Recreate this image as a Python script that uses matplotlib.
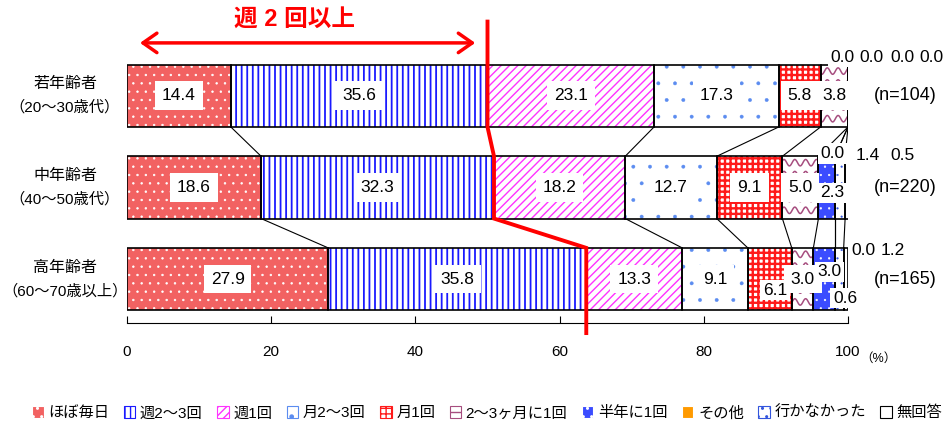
import matplotlib

matplotlib.use("Agg")
import matplotlib.pyplot as plt
import matplotlib.transforms as mtransforms
import numpy as np
from matplotlib.patches import Patch

plt.rcParams["font.family"] = ["Liberation Sans", "Noto Sans CJK JP"]

# --- data ---
GROUPS = ["若年齢者", "中年齢者", "高年齢者"]
GROUP_AGES = ["（20～30歳代）", "（40～50歳代）", "（60～70歳以上）"]
SAMPLE_SIZES = ["(n=104)", "(n=220)", "(n=165)"]
CATEGORIES = ["ほぼ毎日", "週2～3回", "週1回", "月2～3回", "月1回",
              "2～3ヶ月に1回", "半年に1回", "その他", "行かなかった", "無回答"]
YOUNG = [14.4, 35.6, 23.1, 17.3, 5.8, 3.8, 0.0, 0.0, 0.0, 0.0]
MIDDLE = [18.6, 32.3, 18.2, 12.7, 9.1, 5.0, 2.3, 0.0, 1.4, 0.5]
OLD = [27.9, 35.8, 13.3, 9.1, 6.1, 3.0, 3.0, 0.0, 1.2, 0.6]
X_TICKS = [0, 20, 40, 60, 80, 100]
BRACKET_TITLE = "週 2 回以上"

# face colour, hatch colour, hatch, hatch line width
STYLES = [
    ("#f26262", "white", "..", 0.5),
    ("white", "#1a1aff", "|||", 1.3),
    ("white", "#ff33ff", "////", 1.0),
    ("white", "#5b8cf0", ".", 0.3),
    ("white", "#ff1a1a", "+++", 1.7),
    ("white", "#a64d7f", None, 1.0),   # wavy lines drawn by hand below
    ("#3b4cff", "white", "..", 0.4),
    ("#ff9a00", "white", None, 1.0),
    ("white", "#3355dd", "..", 0.3),
    ("white", "black", None, 1.0),
]
WAVE_CAT = 5

# labels that do not sit at the segment centre: (group, category) -> (x, y)
LABEL_POS = {
    (0, 6): (99.2, -0.42), (0, 7): (103.3, -0.42),
    (0, 8): (107.6, -0.42), (0, 9): (111.6, -0.42),
    (1, 6): (97.8, 1.06), (1, 7): (97.9, 0.63),
    (1, 8): (102.8, 0.65), (1, 9): (107.6, 0.65),
    (2, 4): (89.9, 2.12), (2, 6): (97.4, 1.92),
    (2, 7): (102.2, 1.69), (2, 8): (106.2, 1.69), (2, 9): (99.6, 2.21),
}


def set_hatch_lw(patches, lw):
    for p in patches:
        if hasattr(p, "set_hatch_linewidth"):
            p.set_hatch_linewidth(lw)


values = np.array([YOUNG, MIDDLE, OLD])
lefts = np.hstack([np.zeros((3, 1)), np.cumsum(values, axis=1)[:, :-1]])
ypos = np.arange(len(GROUPS))
bar_h = 0.68

fig = plt.figure(figsize=(9.48, 4.25), dpi=100)
ax = fig.add_axes([127 / 948, 1 - 323 / 425, 721 / 948, 273 / 425])

for k, (face, hcol, hatch, hlw) in enumerate(STYLES):
    with plt.rc_context({"hatch.linewidth": hlw}):
        bars = ax.barh(ypos, values[:, k], left=lefts[:, k], height=bar_h,
                       color=face, edgecolor=hcol, hatch=hatch, linewidth=0, zorder=2)
    set_hatch_lw(bars.patches, hlw)
    ax.barh(ypos, values[:, k], left=lefts[:, k], height=bar_h,
            fill=False, edgecolor="black", linewidth=1.2, zorder=3)
    if k == WAVE_CAT:
        for g, rect in enumerate(bars.patches):
            x0, x1 = rect.get_x(), rect.get_x() + rect.get_width()
            y0, y1 = rect.get_y(), rect.get_y() + rect.get_height()
            xs = np.linspace(x0, x1, 120)
            for yc in np.arange(y0 + 0.07, y1, 0.13):
                ln, = ax.plot(xs, yc + 0.035 * np.sin(2 * np.pi * xs / 1.5),
                              color=hcol, lw=1.1, zorder=2.5)
                ln.set_clip_path(rect)

# connector lines between bars
ends = np.cumsum(values, axis=1)
for g in range(len(GROUPS) - 1):
    for k in range(len(CATEGORIES) - 1):
        ax.plot([ends[g, k], ends[g + 1, k]], [g + bar_h / 2, g + 1 - bar_h / 2],
                color="black", lw=0.8, zorder=1)

# value labels
for g in range(len(GROUPS)):
    for k in range(len(CATEGORIES)):
        v = values[g, k]
        if (g, k) in LABEL_POS:
            x, y = LABEL_POS[(g, k)]
            pad = 0.15
        elif v > 0:
            x, y = lefts[g, k] + v / 2, g
            pad = 0.4
        else:
            continue
        ax.text(x, y, f"{v:.1f}", ha="center", va="center", fontsize=12.5,
                zorder=5, clip_on=False,
                bbox=dict(boxstyle=f"square,pad={pad}", fc="white", ec="none"))
    ax.text(107.9, g, SAMPLE_SIZES[g], ha="center", va="center", fontsize=13)
    ax.text(-8.6, g - 0.13, GROUPS[g], ha="center", va="center", fontsize=11.5)
    ax.text(-8.6, g + 0.13, GROUP_AGES[g], ha="center", va="center", fontsize=11)

# red cumulative line for "twice a week or more"
two_plus = values[:, 0] + values[:, 1]
line_x = [two_plus[0], two_plus[0], two_plus[1], two_plus[1], two_plus[2], two_plus[2]]
line_y = [-0.81, bar_h / 2, 1 - bar_h / 2, 1 + bar_h / 2, 2 - bar_h / 2, 2.59]
ax.plot(line_x, line_y, color="red", lw=2.8, zorder=6, clip_on=False,
        solid_joinstyle="miter")

trans = mtransforms.blended_transform_factory(ax.transData, ax.transAxes)
ax.annotate("", xy=(1.8, 1.026), xytext=(48.3, 1.026), xycoords=trans,
            textcoords=trans,
            arrowprops=dict(arrowstyle="<->,head_length=0.5,head_width=0.35",
                            color="red", lw=2.5, mutation_scale=20,
                            shrinkA=0, shrinkB=0))
ax.text(23.3, 1.113, BRACKET_TITLE, transform=trans, ha="center", va="center",
        fontsize=17, fontweight="bold", color="red")

ax.set_xlim(0, 100)
ax.set_ylim(2.48, -0.5)
ax.set_xticks(X_TICKS)
ax.tick_params(axis="x", direction="in", length=5, pad=16, labelsize=11)
ax.set_yticks([])
for side in ["left", "right", "top"]:
    ax.spines[side].set_visible(False)
ax.text(104.2, -0.13, "（%）", transform=trans, ha="center", va="center", fontsize=9)

handles = []
for k, (f, h, ht, hlw) in enumerate(STYLES):
    if k == WAVE_CAT:
        ht = "--"
    handles.append(Patch(facecolor=f, edgecolor=h, hatch=ht, linewidth=0.8))
fig.legend(handles, CATEGORIES, loc="center", bbox_to_anchor=(0.514, 0.028), ncol=10,
           frameon=False, fontsize=11, handlelength=0.75, handleheight=0.75,
           handletextpad=0.3, columnspacing=0.95)

fig.savefig("out.png", dpi=100)
